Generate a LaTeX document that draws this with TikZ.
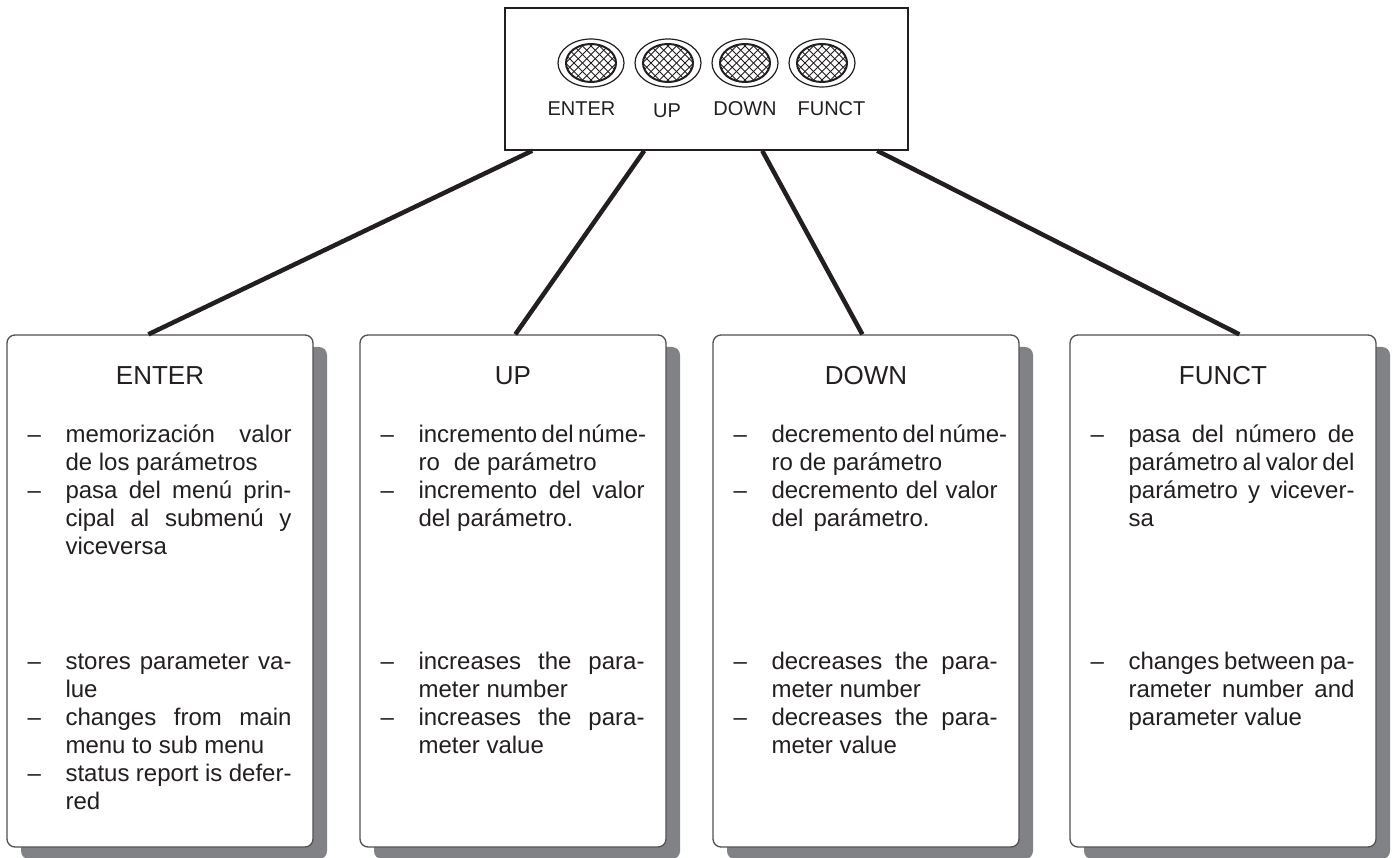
\documentclass[tikz,border=0pt]{standalone}
\usepackage{fontspec}
\setmainfont{Liberation Sans}
\usetikzlibrary{shapes.geometric,shadows,calc}
\definecolor{ink}{RGB}{35,31,32}
\definecolor{shade}{RGB}{128,130,133}
\definecolor{edge}{RGB}{80,80,80}
\newcommand\JL[2]{\hbox{\hbox to 38pt{#1\hss}\makebox[226pt][s]{#2}}}
\newcommand\NL[2]{\hbox{\hbox to 38pt{#1\hss}#2}}
\newcommand\dsh{\textendash}
\newcommand\blk[1]{\vtop{\baselineskip=28pt\lineskiplimit=-100pt\lineskip=0pt #1}}
\tikzset{
  card/.style={draw=edge, line width=1.3pt, rounded corners=8pt, fill=white,
    minimum width=306pt, minimum height=512pt, inner sep=0pt,
    drop shadow={shadow xshift=14pt, shadow yshift=-12pt, fill=shade, opacity=1}},
  ttl/.style={font=\fontsize{26pt}{30pt}\selectfont, text=ink, inner sep=0pt, anchor=base},
  txt/.style={font=\fontsize{24pt}{28pt}\selectfont, text=ink, inner sep=0pt, anchor=base west},
  lbl/.style={font=\fontsize{20pt}{24pt}\selectfont, text=ink, inner sep=0pt, anchor=base},
  panelbox/.style={draw=ink, line width=1.5pt, minimum width=403pt, minimum height=142pt, inner sep=0pt},
  ring/.style={ellipse, draw=ink, line width=1.2pt, minimum width=66pt, minimum height=48pt, inner sep=0pt},
  mesh/.style={ellipse, draw=ink, line width=2pt, minimum width=50pt, minimum height=38pt, inner sep=0pt,
    path picture={\foreach \k in {-8,...,8}{
      \draw[ink, line width=0.9pt] ([shift={(\k*8.5-35,-35)}]path picture bounding box.center) -- ++(70,70);
      \draw[ink, line width=0.9pt] ([shift={(\k*8.5-35,35)}]path picture bounding box.center) -- ++(70,-70);}}},
  conn/.style={draw=ink, line width=4.5pt}
}
\begin{document}
\begin{tikzpicture}[x=1pt, y=-1pt]
\useasboundingbox (0,0) rectangle (1392,858);
% control panel
\node[panelbox] (panel) at (706.5,79) {};
\node[ring] (r1) at (591,63) {};
\node[mesh] (m1) at (591,63) {};
\node[ring] (r2) at (668,63) {};
\node[mesh] (m2) at (668,63) {};
\node[ring] (r3) at (745,63) {};
\node[mesh] (m3) at (745,63) {};
\node[ring] (r4) at (822,63) {};
\node[mesh] (m4) at (822,63) {};
\node[lbl] (l1) at (581.5,116) {ENTER};
\node[lbl] (l2) at (667,118) {UP};
\node[lbl] (l3) at (745,116) {DOWN};
\node[lbl] (l4) at (831.5,116) {FUNCT};
% cards
\node[card] (b1) at (160,591) {};
\node[card] (b2) at (513,591) {};
\node[card] (b3) at (866,591) {};
\node[card] (b4) at (1223,591) {};
% connectors
\draw[conn] ($(panel.south west)+(28,0)$) -- ($(b1.north west)+(142,0)$);
\draw[conn] ($(panel.south west)+(140,0)$) -- ($(b2.north west)+(156,0)$);
\draw[conn] ($(panel.south west)+(258,0)$) -- ($(b3.north west)+(150,0)$);
\draw[conn] ($(panel.south west)+(373,0)$) -- ($(b4.north west)+(170,0)$);
% ENTER
\node[ttl] (t1) at ($(b1.north)+(0,50)$) {ENTER};
\node[txt] (s1) at ($(b1.north west)+(21,108)$) {\blk{%
  \JL{\dsh}{memorización valor}
  \NL{}{de los parámetros}
  \JL{\dsh}{pasa del menú prin-}
  \JL{}{cipal al submenú y}
  \NL{}{viceversa}}};
\node[txt] (e1) at ($(b1.north west)+(21,335)$) {\blk{%
  \JL{\dsh}{stores parameter va-}
  \NL{}{lue}
  \JL{\dsh}{changes from main}
  \NL{}{menu to sub menu}
  \JL{\dsh}{status report is defer-}
  \NL{}{red}}};
% UP
\node[ttl] (t2) at ($(b2.north)+(0,50)$) {UP};
\node[txt] (s2) at ($(b2.north west)+(21,108)$) {\blk{%
  \JL{\dsh}{incremento del núme-}
  \NL{}{ro\hspace{14pt}de parámetro}
  \JL{\dsh}{incremento del valor}
  \NL{}{del parámetro.}}};
\node[txt] (e2) at ($(b2.north west)+(21,335)$) {\blk{%
  \JL{\dsh}{increases the para-}
  \NL{}{meter number}
  \JL{\dsh}{increases the para-}
  \NL{}{meter value}}};
% DOWN
\node[ttl] (t3) at ($(b3.north)+(0,50)$) {DOWN};
\node[txt] (s3) at ($(b3.north west)+(21,108)$) {\blk{%
  \JL{\dsh}{decremento del núme-}
  \NL{}{ro de parámetro}
  \JL{\dsh}{decremento del valor}
  \NL{}{del\hspace{10pt}parámetro.}}};
\node[txt] (e3) at ($(b3.north west)+(21,335)$) {\blk{%
  \JL{\dsh}{decreases the para-}
  \NL{}{meter number}
  \JL{\dsh}{decreases the para-}
  \NL{}{meter value}}};
% FUNCT
\node[ttl] (t4) at ($(b4.north)+(0,50)$) {FUNCT};
\node[txt] (s4) at ($(b4.north west)+(21,108)$) {\blk{%
  \JL{\dsh}{pasa del número de}
  \JL{}{parámetro al valor del}
  \JL{}{parámetro y vicever-}
  \NL{}{sa}}};
\node[txt] (e4) at ($(b4.north west)+(21,335)$) {\blk{%
  \JL{\dsh}{changes between pa-}
  \JL{}{rameter number and}
  \NL{}{parameter value}}};
\end{tikzpicture}
\end{document}
